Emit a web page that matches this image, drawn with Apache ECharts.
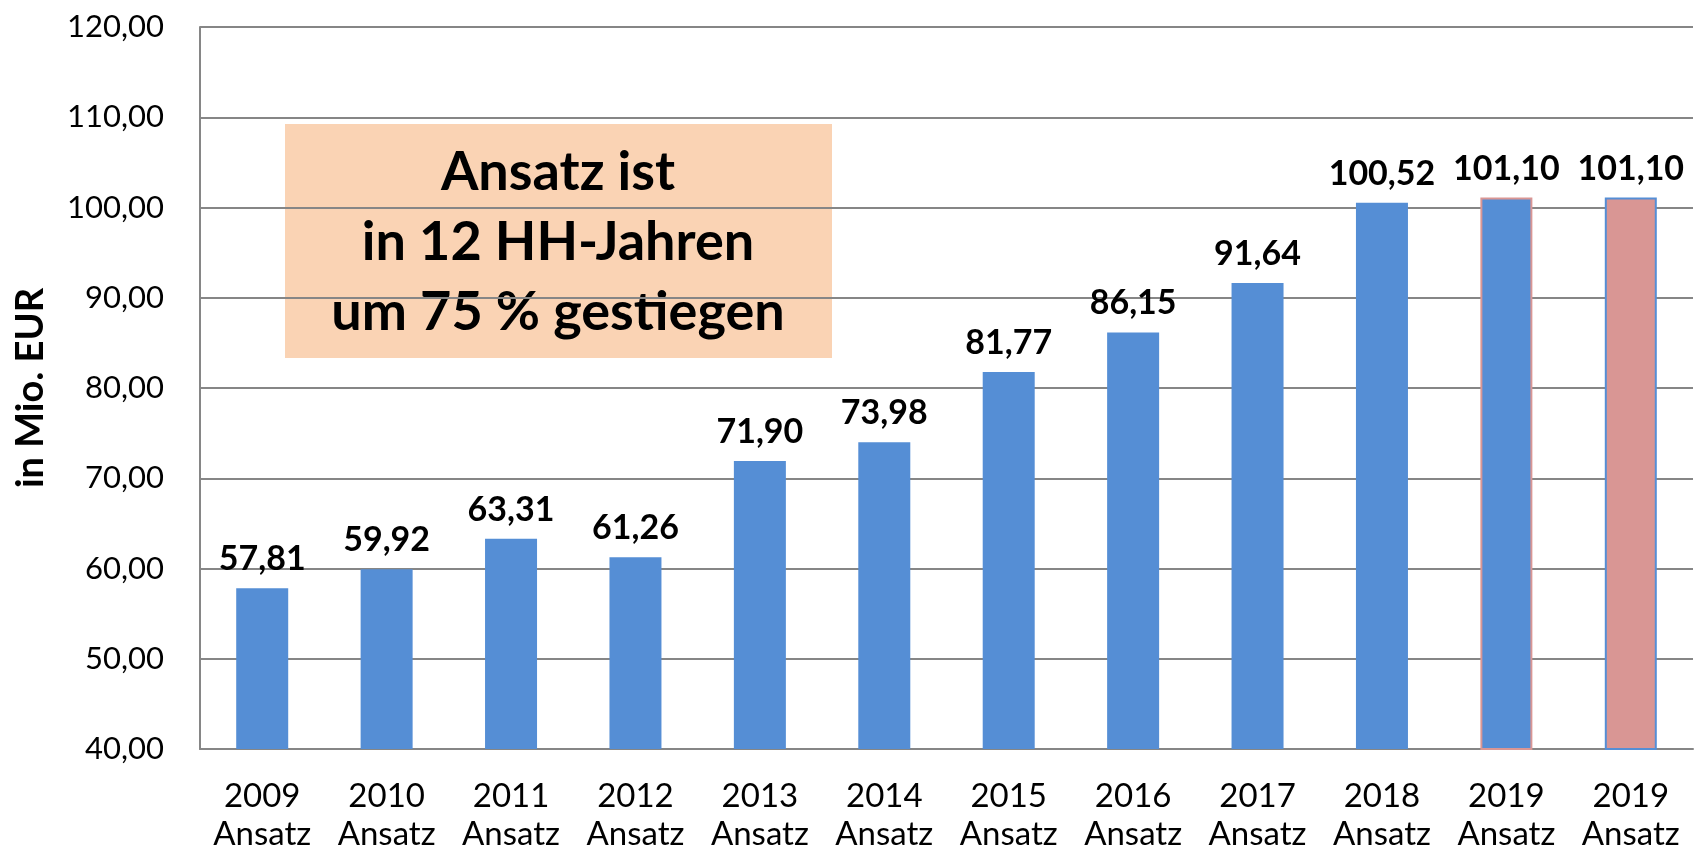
<!DOCTYPE html>
<html>
<head>
<meta charset="utf-8">
<script src="https://cdn.jsdelivr.net/npm/echarts@6/dist/echarts.min.js"></script>
<style>
    html, body {margin: 0; padding: 0; background: #fff;}
    #chart {width: 1694px; height: 856px;}
</style>
</head>
<body>
<div id="chart"></div>
<script>
    // Haushaltsjahre (Ansatz)
    const years = ['2009', '2010', '2011', '2012', '2013', '2014', '2015', '2016', '2017', '2018', '2019', '2019'];
    const values = [57.81, 59.92, 63.31, 61.26, 71.90, 73.98, 81.77, 86.15, 91.64, 100.52, 101.10, 101.10];
    const yTicks = {min: 40, max: 120, interval: 10};
    const boxLines = ['Ansatz ist', 'in 12 HH-Jahren', 'um 75 % gestiegen'];

    const blue = '#558ED5';
    const pink = '#D99694';
    const fontName = 'Lato';

    // letzte zwei Balken haben andere Farben/Rahmen
    const barData = values.map((v, i) => {
        if (i === 10) return {value: v, itemStyle: {color: blue, borderColor: pink, borderWidth: 2}};
        if (i === 11) return {value: v, itemStyle: {color: pink, borderColor: blue, borderWidth: 2}};
        return v;
    });

    const fmt = v => v.toFixed(2).replace('.', ',');

    const myChart = echarts.init(document.getElementById('chart'));
    myChart.setOption({
        animation: false,
        textStyle: {fontFamily: fontName},
        grid: {left: 200, right: 1, top: 27, bottom: 107},
        xAxis: {
            type: 'category',
            data: years,
            axisLine: {lineStyle: {color: '#868686', width: 2}},
            axisTick: {show: false},
            axisLabel: {
                formatter: v => v + '\nAnsatz',
                fontSize: 33,
                lineHeight: 38,
                color: '#000',
                margin: 28,
                interval: 0
            }
        },
        yAxis: {
            type: 'value',
            min: yTicks.min,
            max: yTicks.max,
            interval: yTicks.interval,
            name: 'in Mio. EUR',
            nameLocation: 'middle',
            nameGap: 150,
            nameTextStyle: {fontSize: 38, fontWeight: 'bold', color: '#000'},
            axisLine: {show: true, lineStyle: {color: '#868686', width: 2}},
            axisTick: {show: false},
            splitLine: {lineStyle: {color: '#868686', width: 2}},
            axisLabel: {
                formatter: v => fmt(v),
                fontSize: 31,
                color: '#000',
                margin: 36
            }
        },
        series: [{
            type: 'bar',
            data: barData,
            barWidth: 52,
            itemStyle: {color: blue},
            label: {
                show: true,
                position: 'top',
                distance: 12,
                formatter: p => fmt(p.value),
                fontSize: 34,
                fontWeight: 'bold',
                color: '#000'
            }
        }],
        graphic: [{
            type: 'group',
            left: 285,
            top: 124,
            children: [{
                type: 'rect',
                shape: {x: 0, y: 0, width: 547, height: 234},
                style: {fill: '#FAD3B4'}
            }, {
                type: 'text',
                x: 273,
                y: 119,
                style: {
                    text: boxLines.join('\n'),
                    fontSize: 54,
                    fontWeight: 'bold',
                    fontFamily: fontName,
                    lineHeight: 70,
                    fill: '#000',
                    align: 'center',
                    verticalAlign: 'middle'
                }
            }]
        }]
    });
</script>
</body>
</html>
